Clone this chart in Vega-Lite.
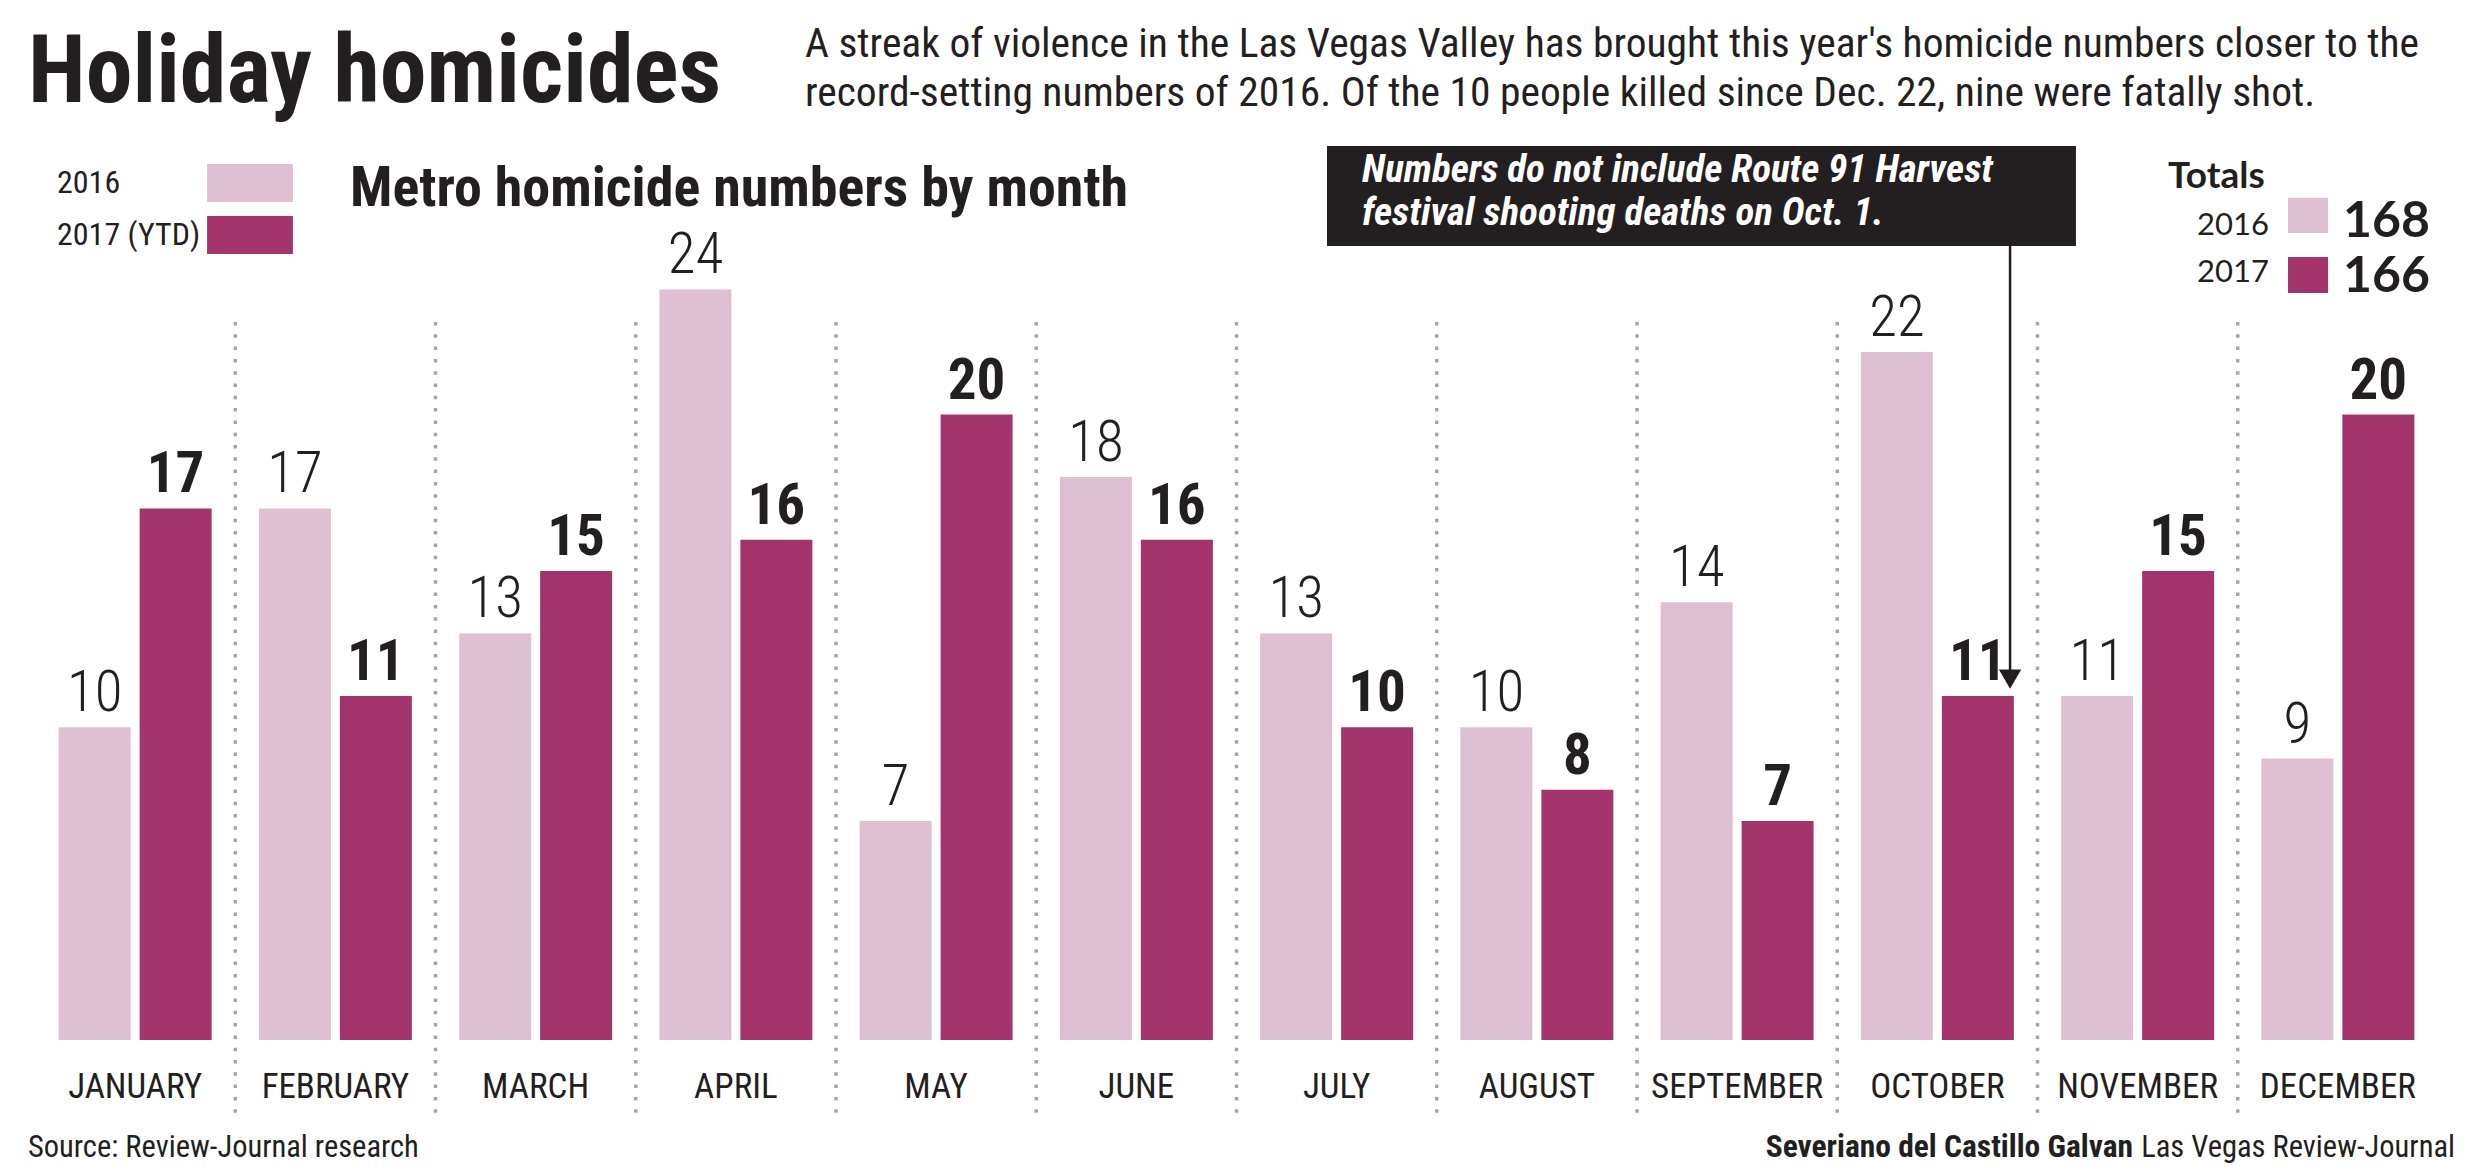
{
  "$schema": "https://vega.github.io/schema/vega-lite/v6.json",
  "autosize": "none",
  "width": 2403,
  "height": 910,
  "padding": {"left": 35, "right": 51, "top": 130, "bottom": 130},
  "background": "#ffffff",
  "config": {"view": {"stroke": null}},
  "data": {
    "values": [
      {"month": "JANUARY", "year": "2016", "n": 10},
      {"month": "FEBRUARY", "year": "2016", "n": 17},
      {"month": "MARCH", "year": "2016", "n": 13},
      {"month": "APRIL", "year": "2016", "n": 24},
      {"month": "MAY", "year": "2016", "n": 7},
      {"month": "JUNE", "year": "2016", "n": 18},
      {"month": "JULY", "year": "2016", "n": 13},
      {"month": "AUGUST", "year": "2016", "n": 10},
      {"month": "SEPTEMBER", "year": "2016", "n": 14},
      {"month": "OCTOBER", "year": "2016", "n": 22},
      {"month": "NOVEMBER", "year": "2016", "n": 11},
      {"month": "DECEMBER", "year": "2016", "n": 9},
      {"month": "JANUARY", "year": "2017", "n": 17},
      {"month": "FEBRUARY", "year": "2017", "n": 11},
      {"month": "MARCH", "year": "2017", "n": 15},
      {"month": "APRIL", "year": "2017", "n": 16},
      {"month": "MAY", "year": "2017", "n": 20},
      {"month": "JUNE", "year": "2017", "n": 16},
      {"month": "JULY", "year": "2017", "n": 10},
      {"month": "AUGUST", "year": "2017", "n": 8},
      {"month": "SEPTEMBER", "year": "2017", "n": 7},
      {"month": "OCTOBER", "year": "2017", "n": 11},
      {"month": "NOVEMBER", "year": "2017", "n": 15},
      {"month": "DECEMBER", "year": "2017", "n": 20}
    ]
  },
  "layer": [
    {
      "encoding": {
        "x": {
          "field": "month", "type": "nominal",
          "sort": ["JANUARY","FEBRUARY","MARCH","APRIL","MAY","JUNE","JULY","AUGUST","SEPTEMBER","OCTOBER","NOVEMBER","DECEMBER"],
          "scale": {"paddingInner": 0, "paddingOuter": 0},
          "axis": {"title": null, "domain": false, "ticks": false, "grid": false, "labelAngle": 0, "labelLimit": 400,
                   "labelFont": "Roboto Condensed", "labelFontSize": 35, "labelColor": "#231f20", "labelPadding": 29}
        },
        "y": {"field": "n", "type": "quantitative", "scale": {"domain": [0, 29.1], "nice": false, "zero": true}, "axis": null}
      },
      "layer": [
        {
          "transform": [{"filter": "datum.year == '2016' && datum.month != 'JANUARY'"}],
          "mark": {"type": "rule", "color": "#a5a5a5", "strokeWidth": 3.5, "strokeDash": [3.5, 8.8]},
          "encoding": {
            "x": {"field": "month", "type": "nominal",
                  "sort": ["JANUARY","FEBRUARY","MARCH","APRIL","MAY","JUNE","JULY","AUGUST","SEPTEMBER","OCTOBER","NOVEMBER","DECEMBER"],
                  "bandPosition": 0},
            "y": {"datum": 22.96, "type": "quantitative"},
            "y2": {"datum": -2.4}
          }
        },
        {
          "mark": {"type": "bar"},
          "encoding": {
            "xOffset": {"field": "year", "type": "nominal", "scale": {"paddingInner": 0.111, "paddingOuter": 0.2917}},
            "color": {
              "field": "year", "type": "nominal",
              "scale": {"domain": ["2016", "2017"], "range": ["#dfc0d3", "#a3356c"]},
              "legend": {
                "orient": "none", "legendX": 196, "legendY": 34, "title": null, "padding": 0,
                "symbolType": "M-2.26,-1H2.26V1H-2.26Z", "symbolSize": 1444, "symbolStrokeWidth": 0,
                "labelFont": "Roboto Condensed", "labelFontSize": 32, "labelColor": "#231f20", "labelLimit": 400,
                "labelOffset": -212, "labelAlign": "left", "rowPadding": 14,
                "labelExpr": "datum.label == '2017' ? '2017 (YTD)' : datum.label"
              }
            }
          }
        },
        {
          "transform": [{"filter": "datum.year == '2016'"}],
          "mark": {"type": "text", "font": "Roboto Condensed", "fontWeight": 300, "fontSize": 57, "dy": -16, "baseline": "alphabetic", "color": "#231f20"},
          "encoding": {
            "xOffset": {"field": "year", "type": "nominal"},
            "text": {"field": "n", "type": "quantitative"}
          }
        },
        {
          "transform": [{"filter": "datum.year == '2017'"}],
          "mark": {"type": "text", "font": "Roboto Condensed", "fontWeight": "bold", "fontSize": 57, "dy": -16, "baseline": "alphabetic", "color": "#231f20"},
          "encoding": {
            "xOffset": {"field": "year", "type": "nominal"},
            "text": {"field": "n", "type": "quantitative"}
          }
        }
      ]
    },
    {
      "layer": [
        {
          "data": {"values": [{}]},
          "mark": {"type": "text", "text": "Holiday homicides", "font": "Roboto Condensed", "fontWeight": "bold", "fontSize": 94, "align": "left", "baseline": "alphabetic", "color": "#231f20"},
          "encoding": {
            "x": {"datum": -0.035, "type": "quantitative", "scale": {"domain": [0, 12], "nice": false, "zero": false}, "axis": null},
            "y": {"datum": 30.0, "type": "quantitative", "axis": null}
          }
        },
        {
          "data": {"values": [{}]},
          "mark": {"type": "text", "text": ["A streak of violence in the Las Vegas Valley has brought this year's homicide numbers closer to the", "record-setting numbers of 2016. Of the 10 people killed since Dec. 22, nine were fatally shot."],
                   "font": "Roboto Condensed", "fontSize": 41.5, "lineHeight": 49, "align": "left", "baseline": "alphabetic", "color": "#231f20"},
          "encoding": {"x": {"datum": 3.845, "type": "quantitative"}, "y": {"datum": 31.42, "type": "quantitative"}}
        },
        {
          "data": {"values": [{}]},
          "mark": {"type": "text", "text": "Metro homicide numbers by month", "font": "Roboto Condensed", "fontWeight": "bold", "fontSize": 56, "align": "left", "baseline": "alphabetic", "color": "#231f20"},
          "encoding": {"x": {"datum": 1.573, "type": "quantitative"}, "y": {"datum": 26.67, "type": "quantitative"}}
        },
        {
          "data": {"values": [{}]},
          "mark": {"type": "rect", "color": "#231f20"},
          "encoding": {"x": {"datum": 6.452, "type": "quantitative"}, "x2": {"datum": 10.192}, "y": {"datum": 28.59, "type": "quantitative"}, "y2": {"datum": 25.39}}
        },
        {
          "data": {"values": [{}]},
          "mark": {"type": "text", "text": ["Numbers do not include Route 91 Harvest", "festival shooting deaths on Oct. 1."],
                   "font": "Roboto Condensed", "fontWeight": "bold", "fontStyle": "italic", "fontSize": 39, "lineHeight": 43, "align": "left", "baseline": "alphabetic", "color": "#ffffff"},
          "encoding": {"x": {"datum": 6.627, "type": "quantitative"}, "y": {"datum": 27.44, "type": "quantitative"}}
        },
        {
          "data": {"values": [{}]},
          "mark": {"type": "rule", "color": "#231f20", "strokeWidth": 2.5},
          "encoding": {"x": {"datum": 9.863, "type": "quantitative"}, "y": {"datum": 25.39, "type": "quantitative"}, "y2": {"datum": 11.8}}
        },
        {
          "data": {"values": [{}]},
          "mark": {"type": "point", "shape": "triangle-down", "filled": true, "size": 500, "color": "#231f20", "opacity": 1},
          "encoding": {"x": {"datum": 9.863, "type": "quantitative"}, "y": {"datum": 11.54, "type": "quantitative"}}
        },
        {
          "data": {"values": [{}]},
          "mark": {"type": "text", "text": "Totals", "font": "Lato", "fontWeight": "bold", "fontSize": 37, "align": "left", "baseline": "alphabetic", "color": "#231f20"},
          "encoding": {"x": {"datum": 10.652, "type": "quantitative"}, "y": {"datum": 27.25, "type": "quantitative"}}
        },
        {
          "transform": [{"aggregate": [{"op": "sum", "field": "n", "as": "total"}], "groupby": ["year"]}, {"filter": "datum.year == '2016'"}],
          "layer": [
            {
              "mark": {"type": "text", "font": "Lato", "fontSize": 31, "align": "right", "baseline": "alphabetic", "color": "#231f20"},
              "encoding": {"x": {"datum": 11.156, "type": "quantitative"}, "y": {"datum": 25.74, "type": "quantitative"}, "text": {"field": "year", "type": "nominal"}}
            },
            {
              "mark": {"type": "rect"},
              "encoding": {"x": {"datum": 11.251, "type": "quantitative"}, "x2": {"datum": 11.451}, "y": {"datum": 26.93, "type": "quantitative"}, "y2": {"datum": 25.81},
                           "color": {"field": "year", "type": "nominal", "legend": null}}
            },
            {
              "mark": {"type": "text", "font": "Lato", "fontWeight": "bold", "fontSize": 50, "align": "left", "baseline": "alphabetic", "color": "#231f20"},
              "encoding": {"x": {"datum": 11.526, "type": "quantitative"}, "y": {"datum": 25.68, "type": "quantitative"}, "text": {"field": "total", "type": "quantitative"}}
            }
          ]
        },
        {
          "transform": [{"aggregate": [{"op": "sum", "field": "n", "as": "total"}], "groupby": ["year"]}, {"filter": "datum.year == '2017'"}],
          "layer": [
            {
              "mark": {"type": "text", "font": "Lato", "fontSize": 31, "align": "right", "baseline": "alphabetic", "color": "#231f20"},
              "encoding": {"x": {"datum": 11.156, "type": "quantitative"}, "y": {"datum": 24.24, "type": "quantitative"}, "text": {"field": "year", "type": "nominal"}}
            },
            {
              "mark": {"type": "rect"},
              "encoding": {"x": {"datum": 11.251, "type": "quantitative"}, "x2": {"datum": 11.451}, "y": {"datum": 25.04, "type": "quantitative"}, "y2": {"datum": 23.89},
                           "color": {"field": "year", "type": "nominal", "legend": null}}
            },
            {
              "mark": {"type": "text", "font": "Lato", "fontWeight": "bold", "fontSize": 50, "align": "left", "baseline": "alphabetic", "color": "#231f20"},
              "encoding": {"x": {"datum": 11.526, "type": "quantitative"}, "y": {"datum": 23.92, "type": "quantitative"}, "text": {"field": "total", "type": "quantitative"}}
            }
          ]
        },
        {
          "data": {"values": [{}]},
          "mark": {"type": "text", "text": "Source: Review-Journal research", "font": "Roboto Condensed", "fontSize": 30.5, "align": "left", "baseline": "alphabetic", "color": "#231f20"},
          "encoding": {"x": {"datum": -0.035, "type": "quantitative"}, "y": {"datum": -3.742, "type": "quantitative"}}
        },
        {
          "data": {"values": [{}]},
          "mark": {"type": "text", "text": "Severiano del Castillo Galvan", "font": "Roboto Condensed", "fontWeight": "bold", "fontSize": 31.5, "align": "right", "baseline": "alphabetic", "color": "#231f20"},
          "encoding": {"x": {"datum": 10.477, "type": "quantitative"}, "y": {"datum": -3.742, "type": "quantitative"}}
        },
        {
          "data": {"values": [{}]},
          "mark": {"type": "text", "text": "Las Vegas Review-Journal", "font": "Roboto Condensed", "fontSize": 30.5, "align": "right", "baseline": "alphabetic", "color": "#231f20"},
          "encoding": {"x": {"datum": 12.085, "type": "quantitative"}, "y": {"datum": -3.742, "type": "quantitative"}}
        }
      ]
    }
  ],
  "resolve": {"scale": {"x": "independent"}}
}
